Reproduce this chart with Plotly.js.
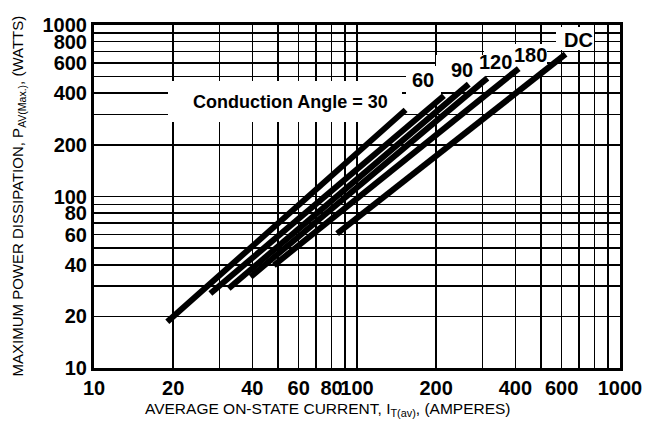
<!DOCTYPE html>
<html>
<head>
<meta charset="utf-8">
<script src="https://cdn.plot.ly/plotly-3.0.1.min.js"></script>
<style>html,body{margin:0;padding:0;background:#fff;}#chart{width:650px;height:428px;}</style>
</head>
<body>
<div id="chart"></div>
<script>
// Conduction angle curves: start and end points (current A, power W)
const angleLabels = ['30', '60', '90', '120', '180', 'DC'];
const currentStart = [19, 27.7, 32.5, 39.4, 48.3, 84];
const powerStart   = [18.6, 27.2, 29.1, 34.0, 39.7, 60.7];
const currentEnd   = [153, 214, 266, 313, 412, 621];
const powerEnd     = [320, 387, 452, 490, 557, 676];

// labelled ticks and extra (unlabelled) grid lines
const xTickVals = [10, 20, 40, 60, 80, 100, 200, 400, 600, 1000];
const xTickText = ['10', '20', '40', '60', '80', '100', '200', '400', '600', '1000'];
const xMinorVals = [30, 50, 70, 90, 300, 500, 700, 800, 900];
const yTickVals = [10, 20, 40, 60, 80, 100, 200, 400, 600, 800, 1000];
const yTickText = ['10', '20', '40', '60', '80', '100', '200', '400', '600', '800', '1000'];
const yMinorVals = [30, 50, 70, 90, 300, 500, 700, 900];

const FONT = '"Liberation Sans", Arial, Helvetica, sans-serif';

const traces = angleLabels.map((name, i) => ({
  type: 'scatter',
  mode: 'lines',
  name: name,
  x: [currentStart[i], currentEnd[i]],
  y: [powerStart[i], powerEnd[i]],
  line: {color: '#000', width: 6},
  hoverinfo: 'skip',
  showlegend: false
}));

// plot-area pixel helpers for label/mask placement (plot area 94..620 x 25..368)
const PX = p => (p - 94) / 526;
const PY = p => (368 - p) / 343;
// paper fraction -> axis value on the 10..1000 log axes
const AX = f => Math.pow(10, 1 + 2 * f);

function mask(x0, x1, y0, y1) {
  return {type: 'rect', xref: 'x', yref: 'y', layer: 'between',
          x0: AX(PX(x0)), x1: AX(PX(x1)), y0: AX(PY(y1)), y1: AX(PY(y0)),
          fillcolor: '#fff', line: {width: 0}};
}

const shapes = [
  mask(168, 402, 81, 122),
  mask(406, 441, 66, 101),
  mask(436, 486, 55, 86),
  mask(484, 547, 44, 70),
  mask(556, 594, 27, 50)
];

function label(text, px, py, size) {
  return {text: text, xref: 'paper', yref: 'paper', x: PX(px), y: PY(py),
          xanchor: 'center', yanchor: 'middle', showarrow: false,
          font: {family: FONT, size: size, color: '#000', weight: 'bold'}};
}

const annotations = [
  label('Conduction Angle = 30', 290, 102, 18),
  label(angleLabels[1], 423, 80, 20),
  label(angleLabels[2], 462, 70, 20),
  label(angleLabels[3], 495, 62, 20),
  label(angleLabels[4], 530, 55, 20),
  label(angleLabels[5], 578, 40, 20),
  {text: 'AVERAGE ON-STATE CURRENT, I<sub>T(av)</sub>, (AMPERES)', xref: 'paper', yref: 'paper',
   x: PX(328), y: PY(410), xanchor: 'center', yanchor: 'middle', showarrow: false,
   font: {family: FONT, size: 15.5, color: '#000'}},
  {text: 'MAXIMUM POWER DISSIPATION, P<sub>AV(Max.)</sub>, (WATTS)', xref: 'paper', yref: 'paper',
   x: PX(18), y: 0.5, xanchor: 'center', yanchor: 'middle', textangle: -90, showarrow: false,
   font: {family: FONT, size: 15, color: '#000'}}
];

function axis(tickvals, ticktext, minorVals) {
  return {
    type: 'log',
    range: [1, 3],
    tickmode: 'array',
    tickvals: tickvals,
    ticktext: ticktext,
    tickangle: 0,
    showgrid: true,
    gridcolor: '#000',
    gridwidth: 1.6,
    minor: {tickmode: 'array', tickvals: minorVals, showgrid: true, gridcolor: '#000', gridwidth: 1.6, ticks: ''},
    showline: true,
    linecolor: '#000',
    linewidth: 3,
    mirror: true,
    ticks: '',
    zeroline: false,
    fixedrange: true,
    automargin: false,
    tickfont: {family: FONT, size: 20, color: '#000', weight: 'bold'}
  };
}

const layout = {
  width: 650,
  height: 428,
  margin: {l: 94, r: 30, t: 25, b: 60},
  paper_bgcolor: '#fff',
  plot_bgcolor: '#fff',
  showlegend: false,
  xaxis: axis(xTickVals, xTickText, xMinorVals),
  yaxis: axis(yTickVals, yTickText, yMinorVals),
  shapes: shapes,
  annotations: annotations
};

Plotly.newPlot('chart', traces, layout, {displayModeBar: false, staticPlot: true});
</script>
</body>
</html>
